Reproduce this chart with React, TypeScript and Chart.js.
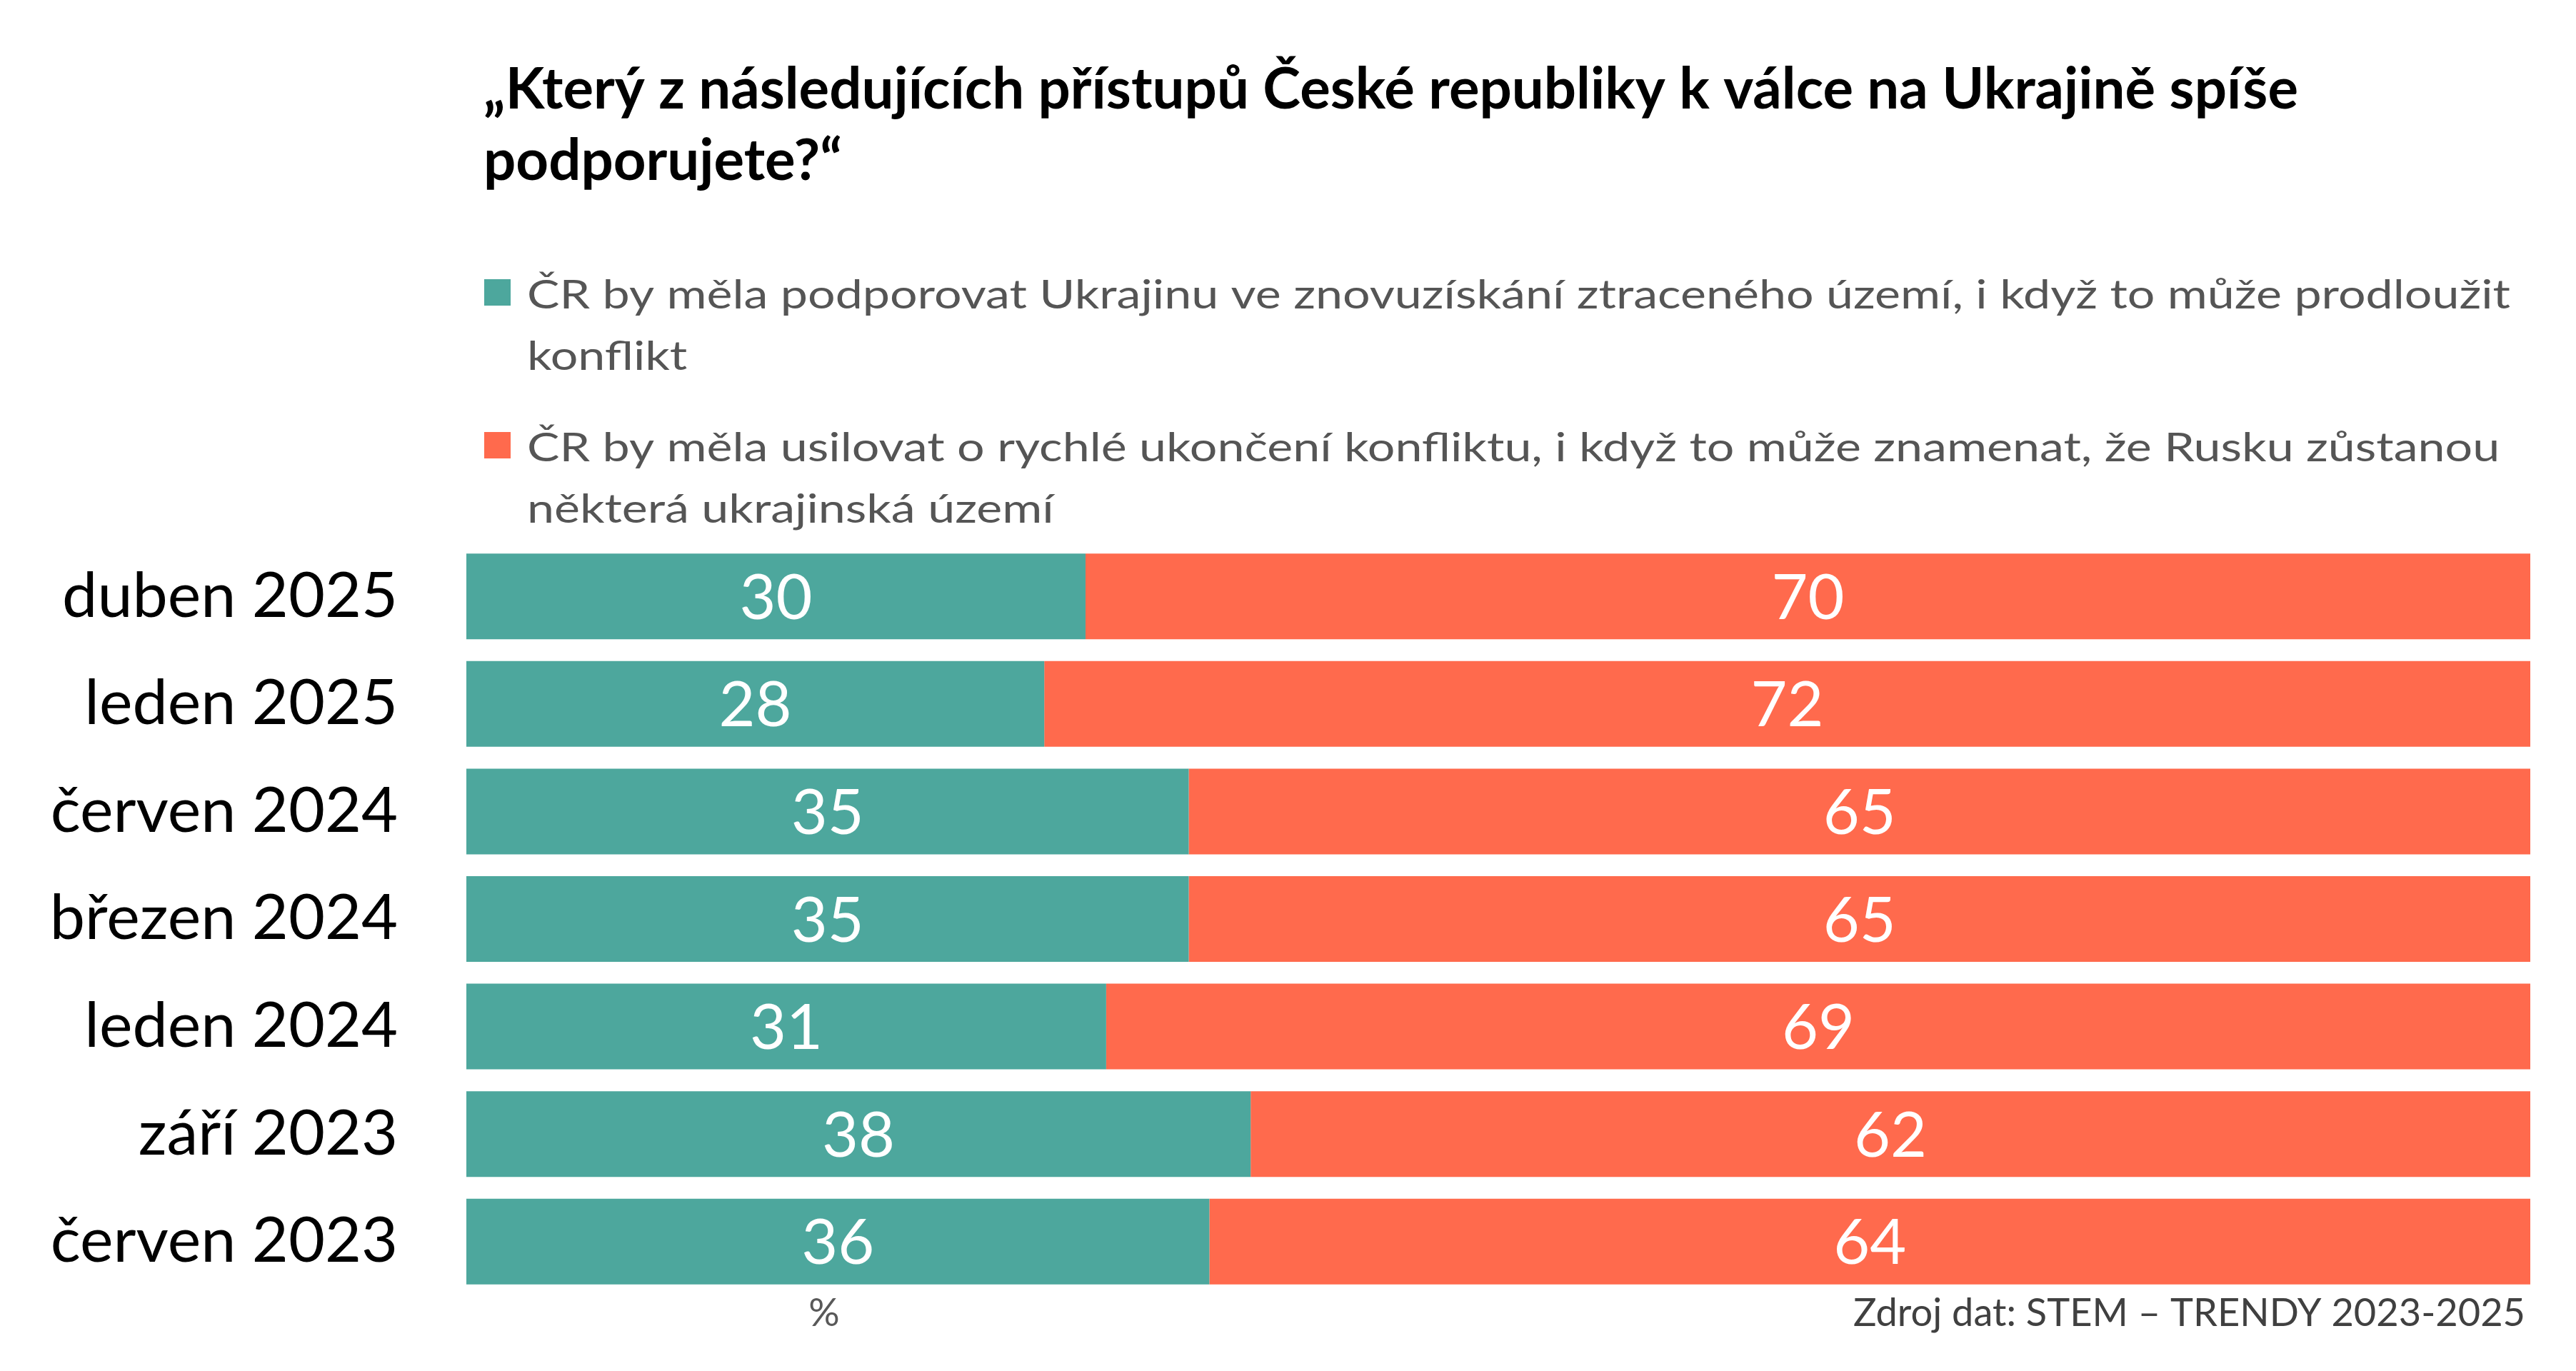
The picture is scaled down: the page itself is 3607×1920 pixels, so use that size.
import { useEffect, useRef } from "react";
import { Chart, registerables } from "chart.js";

Chart.register(...registerables);

// Survey waves, newest first
const categories = [
  "duben 2025",
  "leden 2025",
  "červen 2024",
  "březen 2024",
  "leden 2024",
  "září 2023",
  "červen 2023",
];

// Share of respondents (%)
const supportRecovery = [30, 28, 35, 35, 31, 38, 36];
const quickEnd = [70, 72, 65, 65, 69, 62, 64];

const seriesNames = [
  "ČR by měla podporovat Ukrajinu ve znovuzískání ztraceného území, i když to může prodloužit konflikt",
  "ČR by měla usilovat o rychlé ukončení konfliktu, i když to může znamenat, že Rusku zůstanou některá ukrajinská území",
];

// Legend text broken into the lines it is set on
const legendLines = [
  ["ČR by měla podporovat Ukrajinu ve znovuzískání ztraceného území, i když to může prodloužit", "konflikt"],
  ["ČR by měla usilovat o rychlé ukončení konfliktu, i když to může znamenat, že Rusku zůstanou", "některá ukrajinská území"],
];

const titleLines = [
  "„Který z následujících přístupů České republiky k válce na Ukrajině spíše",
  "podporujete?“",
];

const unitLabel = "%";
const sourceLabel = "Zdroj dat: STEM – TRENDY 2023-2025";

const COLORS = ["#4DA79D", "#FF6A4D"];
const FONT = "Lato, 'Open Sans', sans-serif";

const W = 3607;
const H = 1920;

// Draws text squeezed/stretched horizontally by a factor
function drawFitted(
  ctx: CanvasRenderingContext2D,
  text: string,
  x: number,
  y: number,
  sx: number,
  align: "left" | "right" | "center" = "left"
) {
  ctx.save();
  ctx.translate(x, y);
  ctx.scale(sx, 1);
  ctx.textAlign = align;
  ctx.fillText(text, 0, 0);
  ctx.restore();
}

const headerPlugin = {
  id: "headerAndLegend",
  afterDraw(chart: any) {
    const ctx: CanvasRenderingContext2D = chart.ctx;
    ctx.save();
    ctx.textBaseline = "alphabetic";

    // Title
    ctx.font = `bold 80px ${FONT}`;
    ctx.fillStyle = "#000000";
    const titleScale = 2541 / ctx.measureText(titleLines[0]).width;
    titleLines.forEach((line, i) => drawFitted(ctx, line, 677, 152 + i * 100, titleScale));

    // Legend
    ctx.font = `56px ${FONT}`;
    const legendScale = 2777 / ctx.measureText(legendLines[0][0]).width;
    legendLines.forEach((lines, i) => {
      const top = 391 + i * 214;
      ctx.fillStyle = COLORS[i];
      ctx.fillRect(678, top, 37, 37);
      ctx.fillStyle = "#555555";
      lines.forEach((line, j) => drawFitted(ctx, line, 738, top + 41 + j * 86, legendScale));
    });

    // Footer
    ctx.font = `55px ${FONT}`;
    const footScale = 941 / ctx.measureText(sourceLabel).width;
    ctx.fillStyle = "#595959";
    drawFitted(ctx, unitLabel, 1154, 1857, footScale, "center");
    ctx.fillStyle = "#404040";
    drawFitted(ctx, sourceLabel, 3536, 1857, footScale, "right");

    ctx.restore();
  },
};

const valueLabelPlugin = {
  id: "segmentValues",
  afterDatasetsDraw(chart: any) {
    const ctx: CanvasRenderingContext2D = chart.ctx;
    const size = 88;
    ctx.save();
    ctx.font = `${size}px ${FONT}`;
    ctx.fillStyle = "#FFFFFF";
    ctx.textAlign = "center";
    ctx.textBaseline = "alphabetic";
    chart.data.datasets.forEach((ds: any, i: number) => {
      const meta = chart.getDatasetMeta(i);
      meta.data.forEach((bar: any, j: number) => {
        const { x, y, base } = bar.getProps(["x", "y", "base"], true);
        ctx.fillText(String(ds.data[j]), (x + base) / 2, y + size * 0.358);
      });
    });
    ctx.restore();
  },
};

export default function App() {
  const canvasRef = useRef<HTMLCanvasElement | null>(null);

  useEffect(() => {
    const canvas = canvasRef.current;
    if (!canvas) return;
    const chart = new Chart(canvas, {
      type: "bar",
      data: {
        labels: categories,
        datasets: [
          {
            label: seriesNames[0],
            data: supportRecovery,
            backgroundColor: COLORS[0],
            borderWidth: 0,
            barPercentage: 0.797,
            categoryPercentage: 1,
          },
          {
            label: seriesNames[1],
            data: quickEnd,
            backgroundColor: COLORS[1],
            borderWidth: 0,
            barPercentage: 0.797,
            categoryPercentage: 1,
          },
        ],
      },
      options: {
        indexAxis: "y",
        animation: false,
        responsive: false,
        maintainAspectRatio: false,
        devicePixelRatio: 1,
        layout: { padding: { left: 0, right: 64, top: 760, bottom: 106 } },
        plugins: {
          legend: { display: false },
          title: { display: false },
          tooltip: { enabled: false },
        },
        scales: {
          x: { stacked: true, min: 0, max: 100, display: false },
          y: {
            stacked: true,
            // invisible tick marks give the gap between labels and bars
            grid: { display: false, drawTicks: true, tickLength: 96 },
            border: { display: false },
            ticks: {
              color: "#000000",
              font: { family: FONT, size: 88 },
              padding: 0,
            },
            afterFit(scale: any) {
              scale.width = 653;
            },
          },
        },
      },
      plugins: [valueLabelPlugin, headerPlugin],
    });
    return () => chart.destroy();
  }, []);

  return (
    <div style={{ position: "fixed", left: 0, top: 0, width: W, height: H, background: "#FFFFFF" }}>
      <canvas ref={canvasRef} width={W} height={H} style={{ width: W, height: H, display: "block" }} />
    </div>
  );
}
